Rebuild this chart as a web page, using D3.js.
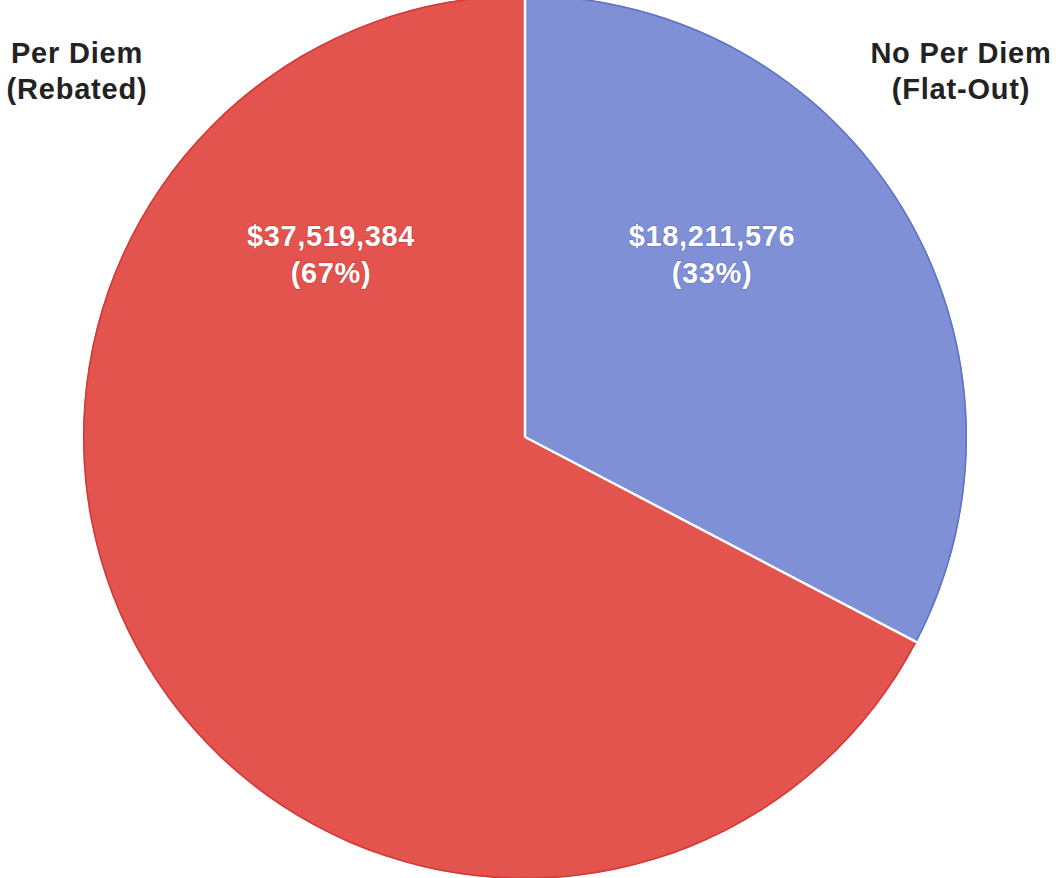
<!DOCTYPE html>
<html>
<head>
<meta charset="utf-8">
<script src="https://cdn.jsdelivr.net/npm/d3@7"></script>
<style>
  html, body { margin: 0; padding: 0; background: #ffffff; }
  svg { display: block; }
</style>
</head>
<body>
<svg id="chart" width="1061" height="878"></svg>
<script>
// Per diem payment split
const categories = ["No Per Diem (Flat-Out)", "Per Diem (Rebated)"];
const nameLines = [["No Per Diem", "(Flat-Out)"], ["Per Diem", "(Rebated)"]];
const amounts = [18211576, 37519384];
const fills = ["#7f90d7", "#e4544f"];
const edges = ["#5f72c4", "#d33a37"];

const cx = 525, cy = 437, radius = 442;

const svg = d3.select("#chart");
const g = svg.append("g").attr("transform", `translate(${cx},${cy})`);

const data = categories.map((c, i) => ({ name: c, lines: nameLines[i], value: amounts[i], i }));
const total = d3.sum(amounts);

const pie = d3.pie().value(d => d.value).sort(null);
const arcs = pie(data);
const arc = d3.arc().innerRadius(0).outerRadius(radius);
const rimArc = d3.arc().innerRadius(radius - 1.5).outerRadius(radius);

// slices
g.selectAll("path.slice").data(arcs).join("path")
  .attr("class", "slice")
  .attr("d", arc)
  .attr("fill", d => fills[d.data.i]);

// darker rim along the outer edge
g.selectAll("path.rim").data(arcs).join("path")
  .attr("class", "rim")
  .attr("d", rimArc)
  .attr("fill", d => edges[d.data.i]);

// white separators along the radial edges
g.selectAll("line.sep").data(arcs).join("line")
  .attr("class", "sep")
  .attr("x1", 0).attr("y1", 0)
  .attr("x2", d => Math.sin(d.startAngle) * radius)
  .attr("y2", d => -Math.cos(d.startAngle) * radius)
  .attr("stroke", "#ffffff")
  .attr("stroke-width", 2.5);

// value labels in the upper part of each slice
const fmt = d3.format("$,");
const labelPos = [[187, -191], [-194, -191]];
arcs.forEach(d => {
  const [x, y] = labelPos[d.data.i];
  const t = g.append("text")
    .attr("x", x).attr("y", y)
    .attr("text-anchor", "middle")
    .attr("font-family", "Liberation Sans, Arial, sans-serif")
    .attr("font-weight", "bold")
    .attr("font-size", 29)
    .attr("letter-spacing", 0.6)
    .attr("fill", "#ffffff")
    .attr("stroke", d.data.i === 0 ? "#5a6bb8" : "#c0302c")
    .attr("stroke-width", 1.4)
    .attr("paint-order", "stroke")
    .attr("stroke-opacity", 0.6);
  t.append("tspan").attr("x", x).attr("dy", 0).text(fmt(d.data.value));
  t.append("tspan").attr("x", x).attr("dy", 37)
    .text("(" + d3.format(".0%")(d.data.value / total) + ")");
});

// category names in the corners
const nameX = [961, 77];
data.forEach(d => {
  const t = svg.append("text")
    .attr("text-anchor", "middle")
    .attr("font-family", "Liberation Sans, Arial, sans-serif")
    .attr("font-weight", "bold")
    .attr("font-size", 29)
    .attr("letter-spacing", 0.8)
    .attr("fill", "#222222");
  d.lines.forEach((ln, k) => {
    t.append("tspan").attr("x", nameX[d.i]).attr("y", 63 + k * 36).text(ln);
  });
});
</script>
</body>
</html>
